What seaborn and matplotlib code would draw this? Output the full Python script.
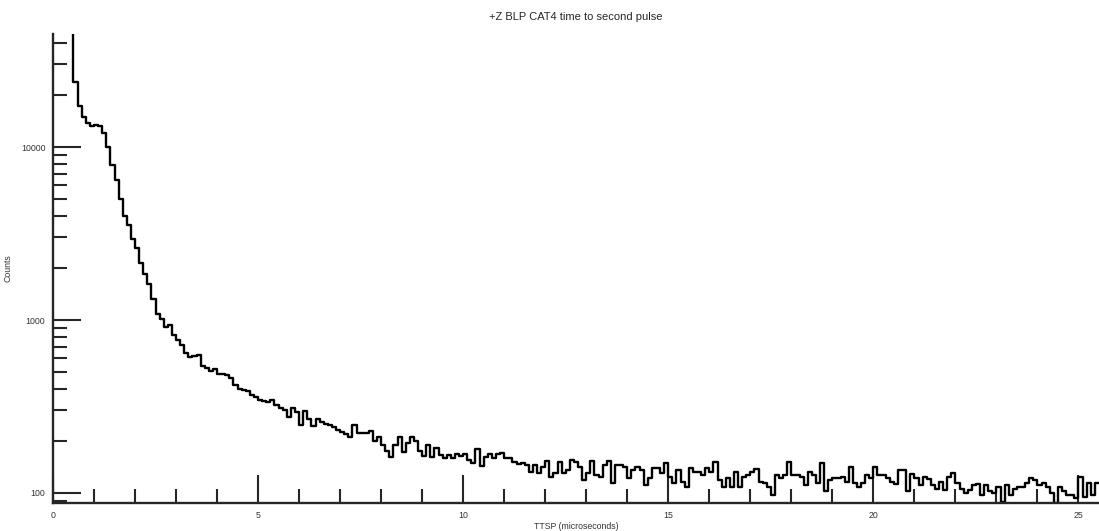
import matplotlib
matplotlib.use("Agg")
import matplotlib.pyplot as plt
import matplotlib.ticker as mticker
import numpy as np
import pandas as pd
import seaborn as sns

# TTSP histogram: 0.1 us bins, first bin starts at 0.4 us (off scale)
bin_start = 0.4
bin_width = 0.1

counts_head = [150000, 23800, 17260, 14850, 13720, 13290]          # 0.4 - 0.9
counts_1 = [13400, 13300, 12000, 10050, 7870, 6430, 5000, 4000, 3540, 2950]
counts_2 = [2600, 2130, 1840, 1620, 1320, 1080, 1010, 910, 935, 820]
counts_3 = [766, 720, 645, 610, 622, 625, 545, 525, 505, 520]
counts_4 = [490, 485, 478, 460, 420, 400, 394, 390, 368, 360]
counts_5 = [343, 338, 336, 345, 322, 311, 303, 276, 309, 292]
counts_6 = [247, 299, 268, 244, 267, 258, 250, 247, 240, 231]
counts_7 = [226, 220, 210, 247, 221, 221, 222, 227, 200, 212]
counts_8 = [189, 176, 162, 190, 210, 173, 195, 210, 200, 176]
counts_9 = [163, 189, 162, 181, 166, 159, 166, 160, 169, 163]
counts_10 = [169, 156, 150, 180, 144, 162, 167, 160, 167, 171]
counts_11 = [160, 159, 152, 147, 149, 145, 133, 145, 130, 142]
counts_12 = [154, 124, 130, 152, 130, 136, 156, 152, 142, 119]
counts_13 = [130, 154, 127, 124, 145, 154, 114, 145, 145, 142]
counts_14 = [122, 136, 142, 136, 111, 122, 139, 139, 130, 149]
counts_15 = [124, 114, 136, 116, 109, 139, 133, 133, 127, 140]
counts_16 = [133, 152, 119, 109, 122, 109, 133, 109, 124, 127]
counts_17 = [133, 137, 116, 114, 109, 97, 127, 122, 127, 152]
counts_18 = [127, 127, 124, 111, 133, 127, 114, 149, 102, 119]
counts_19 = [122, 122, 124, 116, 142, 114, 109, 114, 127, 122]
counts_20 = [142, 127, 127, 122, 116, 112, 135, 136, 102, 128]
counts_21 = [122, 111, 124, 121, 111, 106, 116, 104, 124, 130]
counts_22 = [114, 106, 100, 104, 111, 112, 97, 111, 102, 100]
counts_23 = [109, 89, 111, 97, 106, 109, 109, 114, 122, 119]
counts_24 = [111, 114, 109, 100, 88, 109, 102, 97, 97, 93]
counts_25 = [124, 95, 114, 97, 114]                                 # 25.0 - 25.4

counts = np.array(counts_head + counts_1 + counts_2 + counts_3 + counts_4 + counts_5
                  + counts_6 + counts_7 + counts_8 + counts_9 + counts_10 + counts_11
                  + counts_12 + counts_13 + counts_14 + counts_15 + counts_16
                  + counts_17 + counts_18 + counts_19 + counts_20 + counts_21
                  + counts_22 + counts_23 + counts_24 + counts_25, dtype=float)

edges = np.round(bin_start + bin_width * np.arange(len(counts) + 1), 2)
df = pd.DataFrame({"ttsp": edges[:-1] + bin_width / 2, "counts": counts})

sns.set_style("ticks")
plt.rcParams["font.family"] = ["Liberation Sans", "DejaVu Sans"]

fig = plt.figure(figsize=(10.99, 5.31), dpi=100)
ax = fig.add_axes([0.0482, 0.0527, 0.9518, 0.8832])

sns.histplot(data=df, x="ttsp", weights="counts", bins=edges.tolist(),
             element="step", fill=False, color="black", linewidth=1.7, ax=ax)

ax.set_yscale("log")
ax.set_xlim(0, 25.5)
ax.set_ylim(87.5, 45000)

ax.xaxis.set_major_locator(mticker.MultipleLocator(5))
ax.xaxis.set_minor_locator(mticker.MultipleLocator(1))
ax.yaxis.set_major_locator(mticker.LogLocator(base=10))
ax.yaxis.set_minor_locator(mticker.LogLocator(base=10, subs=np.arange(2, 10)))
ax.yaxis.set_major_formatter(mticker.FuncFormatter(lambda v, p: f"{v:.0f}"))
ax.yaxis.set_minor_formatter(mticker.NullFormatter())

ax.tick_params(which="major", direction="in", length=20, width=1.5,
               labelsize=6.3, pad=5.5, labelcolor="#333333")
ax.tick_params(which="minor", direction="in", length=10, width=1.5)

sns.despine(ax=ax)
for side in ("left", "bottom"):
    ax.spines[side].set_linewidth(1.7)

ax.set_xlabel("TTSP (microseconds)", fontsize=6.3, color="#333333", labelpad=2)
ax.set_ylabel("Counts", fontsize=6.3, color="#333333")
ax.yaxis.set_label_coords(-0.039, 0.5)
ax.set_title("+Z BLP CAT4 time to second pulse", fontsize=8, pad=10)

fig.savefig("out.png", dpi=100)
